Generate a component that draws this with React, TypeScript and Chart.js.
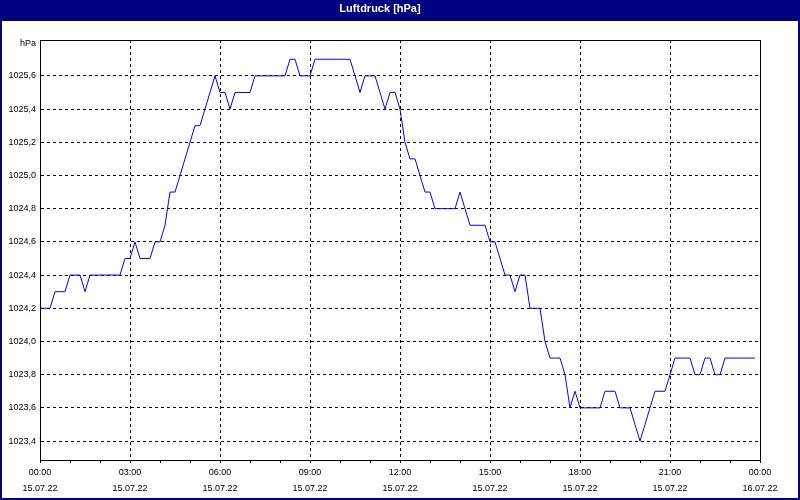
import React, { useEffect, useRef } from "react";
import { Chart, registerables } from "chart.js";

Chart.register(...registerables);

const titleText = "Luftdruck [hPa]";
const unitLabel = "hPa";
const intervalMinutes = 10;

const pressure = [
  1024.2, 1024.2, 1024.2, 1024.3, 1024.3, 1024.3, 1024.4, 1024.4, 1024.4, 1024.3,
  1024.4, 1024.4, 1024.4, 1024.4, 1024.4, 1024.4, 1024.4, 1024.5, 1024.5, 1024.6,
  1024.5, 1024.5, 1024.5, 1024.6, 1024.6, 1024.7, 1024.9, 1024.9, 1025.0, 1025.1,
  1025.2, 1025.3, 1025.3, 1025.4, 1025.5, 1025.6, 1025.5, 1025.5, 1025.4, 1025.5,
  1025.5, 1025.5, 1025.5, 1025.6, 1025.6, 1025.6, 1025.6, 1025.6, 1025.6, 1025.6,
  1025.7, 1025.7, 1025.6, 1025.6, 1025.6, 1025.7, 1025.7, 1025.7, 1025.7, 1025.7,
  1025.7, 1025.7, 1025.7, 1025.6, 1025.5, 1025.6, 1025.6, 1025.6, 1025.5, 1025.4,
  1025.5, 1025.5, 1025.4, 1025.2, 1025.1, 1025.1, 1025.0, 1024.9, 1024.9, 1024.8,
  1024.8, 1024.8, 1024.8, 1024.8, 1024.9, 1024.8, 1024.7, 1024.7, 1024.7, 1024.7,
  1024.6, 1024.6, 1024.5, 1024.4, 1024.4, 1024.3, 1024.4, 1024.4, 1024.2, 1024.2,
  1024.2, 1024.0, 1023.9, 1023.9, 1023.9, 1023.8, 1023.6, 1023.7, 1023.6, 1023.6,
  1023.6, 1023.6, 1023.6, 1023.7, 1023.7, 1023.7, 1023.6, 1023.6, 1023.6, 1023.5,
  1023.4, 1023.5, 1023.6, 1023.7, 1023.7, 1023.7, 1023.8, 1023.9, 1023.9, 1023.9,
  1023.9, 1023.8, 1023.8, 1023.9, 1023.9, 1023.8, 1023.8, 1023.9, 1023.9, 1023.9,
  1023.9, 1023.9, 1023.9, 1023.9,
];

const yTicks = [1023.4, 1023.6, 1023.8, 1024.0, 1024.2, 1024.4, 1024.6, 1024.8, 1025.0, 1025.2, 1025.4, 1025.6];
const yMin = 1023.286;
const yMax = 1025.816;

const xTickTimes = ["00:00", "03:00", "06:00", "09:00", "12:00", "15:00", "18:00", "21:00", "00:00"];
const xTickDates = ["15.07.22", "15.07.22", "15.07.22", "15.07.22", "15.07.22", "15.07.22", "15.07.22", "15.07.22", "16.07.22"];
const xMinutesMax = 1440;
const minorStepMinutes = 60;
const majorStepMinutes = 180;

const NAVY = "#000080";
const FONT = "'Liberation Sans', Arial, sans-serif";

export default function App() {
  const ref = useRef<HTMLCanvasElement | null>(null);

  useEffect(() => {
    if (!ref.current) return;
    const points = pressure.map((v, i) => ({ x: i * intervalMinutes, y: v }));

    const framePlugin = {
      id: "frame",
      beforeDraw(chart: any) {
        const { ctx, width, height } = chart;
        ctx.save();
        ctx.fillStyle = "#ffffff";
        ctx.fillRect(0, 0, width, height);
        ctx.fillStyle = NAVY;
        ctx.fillRect(0, 0, width, 21);
        ctx.restore();
      },
      afterDraw(chart: any) {
        const { ctx, width, height, chartArea } = chart;
        ctx.save();
        ctx.fillStyle = NAVY;
        ctx.fillRect(0, 0, 2, height);
        ctx.fillRect(width - 2, 0, 2, height);
        ctx.fillRect(0, height - 2, width, 2);
        ctx.strokeStyle = "#000000";
        ctx.lineWidth = 1;
        ctx.strokeRect(
          Math.round(chartArea.left) + 0.5,
          Math.round(chartArea.top) + 0.5,
          Math.round(chartArea.right - chartArea.left),
          Math.round(chartArea.bottom - chartArea.top)
        );
        ctx.fillStyle = "#000000";
        ctx.font = `9px ${FONT}`;
        ctx.textAlign = "right";
        ctx.textBaseline = "middle";
        ctx.fillText(unitLabel, chartArea.left - 4, chartArea.top + 4);
        ctx.restore();
      },
    };

    const chart = new Chart(ref.current, {
      type: "line",
      data: {
        datasets: [
          {
            data: points,
            borderColor: "#0000ff",
            borderWidth: 1,
            pointRadius: 0,
            tension: 0,
            fill: false,
          },
        ],
      },
      options: {
        responsive: false,
        animation: false,
        layout: { padding: { left: 0, right: 40, top: 0, bottom: 0 } },
        plugins: {
          legend: { display: false },
          tooltip: { enabled: false },
          title: {
            display: true,
            text: titleText,
            color: "#ffffff",
            font: { family: FONT, size: 11, weight: "bold", lineHeight: 1.2 },
            padding: { top: 2, bottom: 24.8 },
          },
        },
        scales: {
          x: {
            type: "linear",
            min: 0,
            max: xMinutesMax,
            afterBuildTicks(scale: any) {
              const t = [];
              for (let m = 0; m <= xMinutesMax; m += minorStepMinutes) t.push({ value: m });
              scale.ticks = t;
            },
            afterFit(scale: any) {
              scale.height = 40;
            },
            grid: {
              color: (c: any) => {
                const v = c.tick ? c.tick.value : 0;
                return v % majorStepMinutes === 0 && v !== 0 && v !== xMinutesMax ? "#000000" : "rgba(0,0,0,0)";
              },
              tickColor: "#000000",
              tickLength: 3,
              lineWidth: 1,
            },
            border: { display: true, color: "#000000", width: 1, dash: [3, 3] },
            ticks: {
              autoSkip: false,
              maxRotation: 0,
              minRotation: 0,
              padding: 2,
              color: "#000000",
              font: { family: FONT, size: 9, lineHeight: 16 / 9 },
              callback: (value: any) => {
                const v = Number(value);
                if (v % majorStepMinutes !== 0) return "";
                const idx = v / majorStepMinutes;
                return [xTickTimes[idx], xTickDates[idx]];
              },
            },
          },
          y: {
            type: "linear",
            min: yMin,
            max: yMax,
            afterBuildTicks(scale: any) {
              scale.ticks = yTicks.map((v) => ({ value: v }));
            },
            afterFit(scale: any) {
              scale.width = 40;
            },
            grid: {
              color: "#000000",
              drawTicks: false,
              lineWidth: 1,
            },
            border: { display: true, color: "#000000", width: 1, dash: [3, 3] },
            ticks: {
              padding: 4,
              color: "#000000",
              font: { family: FONT, size: 9 },
              callback: (value: any) => Number(value).toFixed(1).replace(".", ","),
            },
          },
        },
      },
      plugins: [framePlugin],
    });

    return () => chart.destroy();
  }, []);

  return (
    <div style={{ position: "absolute", left: 0, top: 0, width: 800, height: 500 }}>
      <canvas ref={ref} width={800} height={500} style={{ display: "block" }} />
    </div>
  );
}
